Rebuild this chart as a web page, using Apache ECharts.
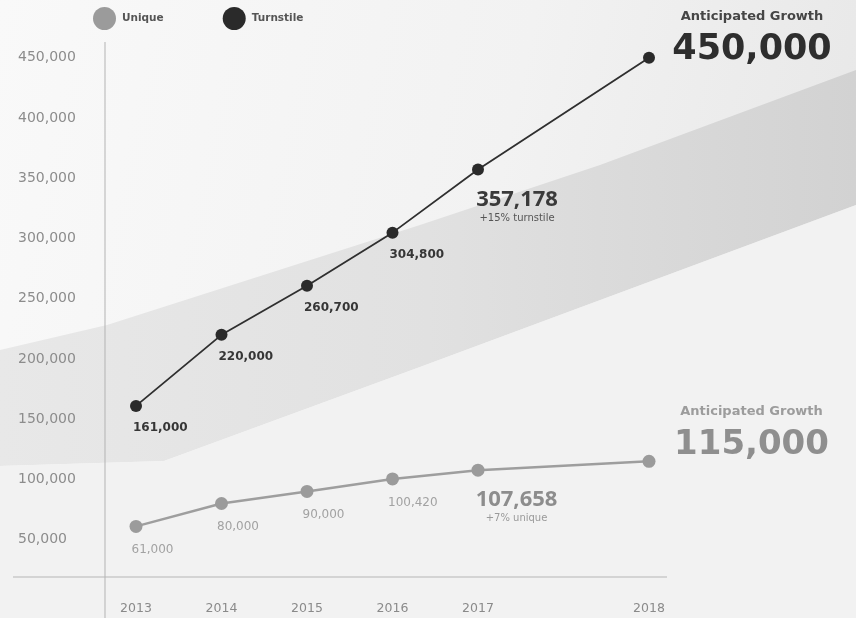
<!DOCTYPE html>
<html>
<head>
<meta charset="utf-8">
<script src="https://cdn.jsdelivr.net/npm/echarts@6/dist/echarts.min.js"></script>
<style>
  html, body { margin: 0; padding: 0; background: #f3f3f3; }
  #chart { width: 856px; height: 618px; }
</style>
</head>
<body>
<div id="chart"></div>
<script>
// Ridership by year; the empty slot separates actuals from the 2018 projection.
const years = ['2013', '2014', '2015', '2016', '2017', '', '2018'];
const turnstile = [161000, 220000, 260700, 304800, 357178, null, 450000];
const unique = [61000, 80000, 90000, 100420, 107658, null, 115000];
const yTicks = [50000, 100000, 150000, 200000, 250000, 300000, 350000, 400000, 450000];
const growthNotes = { Turnstile: '+15% turnstile', Unique: '+7% unique' };
const forecastTitle = 'Anticipated Growth';

const HIGHLIGHT_INDEX = 4;   // latest actual year
const FORECAST_INDEX = 6;    // projected year
const Y_MIN = 19000;
const Y_MAX = 450000;

const fmt = v => v.toLocaleString('en-US');

const styles = {
  Turnstile: {
    line: '#2f2f2f', dot: '#2a2a2a', size: 12, width: 1.8,
    label: { color: '#363636', fontWeight: 'bold', pos: [3, 28] },
    big: '#3a3a3a', note: '#555555',
    fTitle: '#454545', fValue: '#2e2e2e', fSize: 35, fPos: [109, -47]
  },
  Unique: {
    line: '#9e9e9e', dot: '#9b9b9b', size: 13, width: 2.5,
    label: { color: '#a2a2a2', fontWeight: 'normal', pos: [2, 30] },
    big: '#8d8d8d', note: '#9a9a9a',
    fTitle: '#9c9c9c', fValue: '#8f8f8f', fSize: 34, fPos: [109, -55]
  }
};

function buildData(name, values) {
  const s = styles[name];
  return values.map((v, i) => {
    if (v == null) return '-';
    let label;
    if (i === HIGHLIGHT_INDEX) {
      label = {
        show: true, position: [45, 24], align: 'center', verticalAlign: 'top',
        formatter: '{a|' + fmt(v) + '}\n{b|' + growthNotes[name] + '}',
        rich: {
          a: { fontFamily: 'Open Sans', fontWeight: 'bold', fontSize: 22, lineHeight: 24, color: s.big, align: 'center' },
          b: { fontFamily: 'DejaVu Sans', fontSize: 10, lineHeight: 14, color: s.note, align: 'center' }
        }
      };
    } else if (i === FORECAST_INDEX) {
      label = {
        show: true, position: s.fPos, align: 'center', verticalAlign: 'top',
        formatter: '{t|' + forecastTitle + '}\n{v|' + fmt(v) + '}',
        rich: {
          t: { fontFamily: 'DejaVu Sans', fontWeight: 'bold', fontSize: 13, lineHeight: 24, color: s.fTitle, align: 'center' },
          v: { fontFamily: 'DejaVu Sans', fontWeight: 'bold', fontSize: s.fSize, lineHeight: 42, color: s.fValue, align: 'center' }
        }
      };
    } else {
      label = {
        show: true, position: s.label.pos, align: 'left', verticalAlign: 'middle',
        formatter: fmt(v),
        fontFamily: 'DejaVu Sans', fontSize: 12, fontWeight: s.label.fontWeight, color: s.label.color
      };
    }
    return { value: v, label };
  });
}

function makeSeries(name, values) {
  const s = styles[name];
  return {
    name, type: 'line', data: buildData(name, values),
    connectNulls: true, clip: false, silent: true,
    symbol: 'circle', symbolSize: s.size,
    lineStyle: { color: s.line, width: s.width },
    itemStyle: { color: s.dot },
    z: name === 'Turnstile' ? 4 : 3
  };
}

// Soft diagonal backdrop band
const backdrop = [
  {
    type: 'rect', z: -20, silent: true,
    shape: { x: 0, y: 0, width: 856, height: 618 },
    style: {
      fill: new echarts.graphic.LinearGradient(0, 0, 1, 0.3, [
        { offset: 0, color: '#f9f9f9' },
        { offset: 0.6, color: '#f2f2f2' },
        { offset: 1, color: '#e8e8e8' }
      ])
    }
  },
  {
    type: 'polygon', z: -19, silent: true,
    shape: { points: [[0, 350], [107, 325], [420, 225], [600, 165], [856, 70], [856, 205], [420, 367], [164, 461], [0, 466]] },
    style: {
      fill: new echarts.graphic.LinearGradient(0, 0, 1, 0, [
        { offset: 0, color: '#e8e8e8' },
        { offset: 0.5, color: '#e1e1e1' },
        { offset: 1, color: '#d2d2d2' }
      ])
    }
  },
  {
    type: 'polygon', z: -19, silent: true,
    shape: { points: [[0, 466], [164, 461], [420, 367], [856, 205], [856, 618], [0, 618]] },
    style: { fill: '#f2f2f2' }
  }
];

const chart = echarts.init(document.getElementById('chart'), null, { renderer: 'canvas' });

chart.setOption({
  backgroundColor: '#f3f3f3',
  animation: false,
  textStyle: { fontFamily: 'DejaVu Sans' },
  legend: {
    data: ['Unique', 'Turnstile'],
    left: 93, top: 7, padding: 0,
    icon: 'circle', itemWidth: 23, itemHeight: 23, itemGap: 59,
    textStyle: { fontFamily: 'DejaVu Sans', fontWeight: 'bold', fontSize: 10.5, color: '#555555', padding: [0, 0, 0, 1] },
    selectedMode: false
  },
  grid: { left: 136, right: 207, top: 57.7, bottom: 41 },
  xAxis: {
    type: 'category', data: years, boundaryGap: false,
    axisLine: { show: false }, axisTick: { show: false }, splitLine: { show: false },
    axisLabel: { margin: 25, fontSize: 12.5, color: '#8a8a8a', fontFamily: 'DejaVu Sans', interval: 0 }
  },
  yAxis: {
    type: 'value', min: Y_MIN, max: Y_MAX, offset: 31,
    axisLine: { show: false }, axisTick: { show: false }, splitLine: { show: false },
    axisLabel: {
      customValues: yTicks, align: 'left', margin: 87,
      fontSize: 14, color: '#8c8c8c', fontFamily: 'DejaVu Sans',
      formatter: v => fmt(v)
    }
  },
  graphic: backdrop,
  series: [makeSeries('Unique', unique), makeSeries('Turnstile', turnstile)]
});

// Crossing axis lines that run past the plot area
const baseY = chart.convertToPixel({ yAxisIndex: 0 }, Y_MIN);
const axisX = chart.convertToPixel({ xAxisIndex: 0 }, 0) - 31;
chart.setOption({
  graphic: backdrop.concat([
    { type: 'line', z: -5, silent: true, shape: { x1: axisX, y1: 42, x2: axisX, y2: 618 }, style: { stroke: '#b3b3b3', lineWidth: 1 } },
    { type: 'line', z: -5, silent: true, shape: { x1: 13, y1: baseY, x2: 667, y2: baseY }, style: { stroke: '#b5b5b5', lineWidth: 1.2 } }
  ])
});
</script>
</body>
</html>
